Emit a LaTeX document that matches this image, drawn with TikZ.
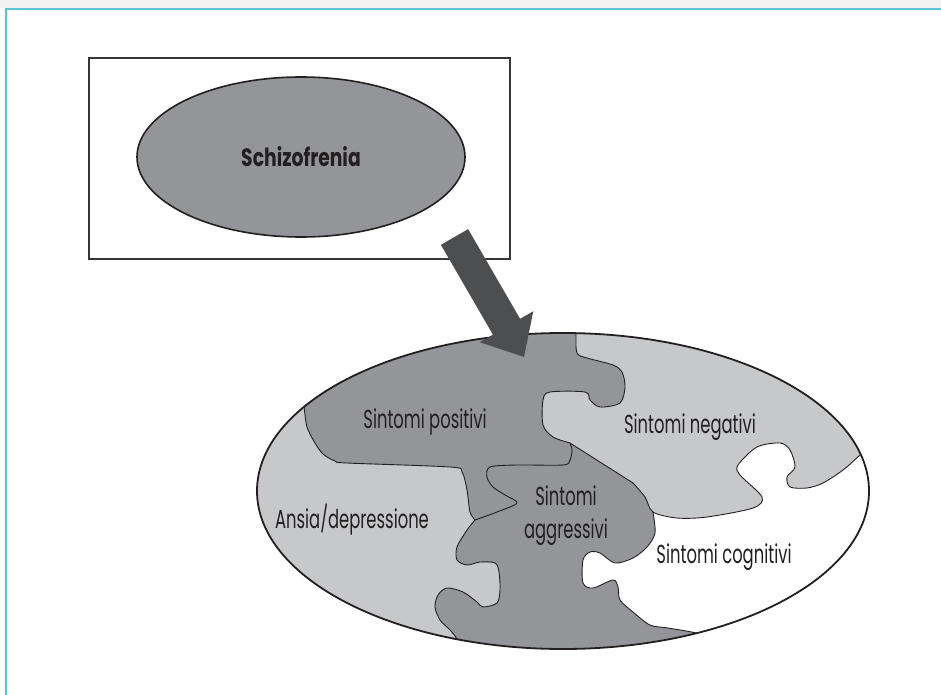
\documentclass[tikz,border=0pt]{standalone}
\usepackage{fontspec}
\newfontfamily\labfont[FakeStretch=0.63]{Poppins}
\newfontfamily\titlefont[FakeStretch=0.75]{Poppins}
\usetikzlibrary{shapes.geometric}
\definecolor{midgray}{HTML}{939598}
\definecolor{lightgray2}{HTML}{C7C8CA}
\definecolor{arrowgray}{HTML}{4D4E50}
\definecolor{inkc}{HTML}{231F20}
\definecolor{framecyan}{HTML}{5CC6D0}
\tikzset{
  lab/.style={font=\labfont\fontsize{26}{33}\selectfont, text=inkc, inner sep=0, outer sep=0},
  seam/.style={draw=inkc, line width=0.9, line join=round},
  sm/.style={smooth, tension=0.5},
}
\begin{document}
\begin{tikzpicture}[x=1pt,y=-1pt]
\useasboundingbox (0,0) rectangle (941,695);
\fill[black!5] (0,0) rectangle (941,8);
\draw[framecyan, line width=1.5] (941,9) -- (6,9) -- (6,695);

% top box with the Schizofrenia ellipse
\node[draw=inkc!90, line width=1.8, minimum width=421, minimum height=201, inner sep=0, outer sep=0] (box) at (299.5,158.5) {};
\node[ellipse, draw=inkc, line width=1.6, fill=midgray, minimum width=328, minimum height=160, inner sep=0, text=inkc, font=\titlefont\bfseries\fontsize{25}{30}\selectfont] (schizo) at (301,157) {Schizofrenia};

% the puzzle inside the big ellipse
\begin{scope}
\clip (563,491) ellipse [x radius=306, y radius=158];
\fill[midgray] (250,320) rectangle (900,670);
% Ansia/depressione
\fill[lightgray2] plot[sm] coordinates {(303,395) (304,406) (307,427) (315,443) (323,454) (335,461) (347,463) (450,467) (462,472) (467,490) (470,512) (475,520)}
  -- plot[sm] coordinates {(475,520) (467,530) (457,547) (457,560) (467,565) (480,562) (495,563) (499,572) (500,590) (497,603) (483,607) (477,602) (463,592) (447,588) (438,595) (435,607) (440,620) (450,630) (457,639) (462,652)}
  -- (250,660) -- (250,395) -- cycle;
% Sintomi negativi
\fill[lightgray2] plot[sm] coordinates {(576,322) (576,335) (577,353) (587,358) (613,365) (622,372) (625,387) (620,403) (600,407) (590,400) (585,392) (550,392) (543,400) (543,425) (553,437) (570,443)}
  -- (633,483) -- plot[sm] coordinates {(633,483) (645,497) (653,512) (677,518) (707,517) (753,508) (762,497) (740,475) (738,465) (757,447) (780,443) (790,450) (795,467) (787,477) (790,487) (807,488) (823,483) (843,470) (860,455) (878,438)}
  -- (900,440) -- (900,320) -- (576,320) -- cycle;
% Sintomi cognitivi
\fill[white] plot[sm] coordinates {(653,512) (677,518) (707,517) (753,508) (762,497) (740,475) (738,465) (757,447) (780,443) (790,450) (795,467) (787,477) (790,487) (807,488) (823,483) (843,470) (860,455) (878,438)}
  -- (900,440) -- (900,670) -- (712,670)
  -- plot[sm] coordinates {(712,640) (696,633) (668,628) (650,625) (633,612) (620,600) (618,587) (613,580) (593,588) (583,583) (583,560) (590,552) (600,553) (615,563) (633,558) (647,547) (655,533) (653,512)} -- cycle;
% seams
\draw[seam] plot[sm] coordinates {(303,395) (304,406) (307,427) (315,443) (323,454) (335,461) (347,463) (450,467) (462,472) (467,490) (470,512) (475,520)};
\draw[seam] plot[sm] coordinates {(475,520) (467,530) (457,547) (457,560) (467,565) (480,562) (495,563) (499,572) (500,590) (497,603) (483,607) (477,602) (463,592) (447,588) (438,595) (435,607) (440,620) (450,630) (457,639) (462,652)};
\draw[seam] plot[sm] coordinates {(475,520) (497,512) (517,503) (505,495) (493,487) (487,477) (490,467) (517,465) (563,465) (570,460) (572,450) (570,443)};
\draw[seam] plot[sm] coordinates {(576,322) (576,335) (577,353) (587,358) (613,365) (622,372) (625,387) (620,403) (600,407) (590,400) (585,392) (550,392) (543,400) (543,425) (553,437) (570,443)};
\draw[seam] (570,443) -- (633,483);
\draw[seam] plot[sm] coordinates {(633,483) (645,497) (653,512) (677,518) (707,517) (753,508) (762,497) (740,475) (738,465) (757,447) (780,443) (790,450) (795,467) (787,477) (790,487) (807,488) (823,483) (843,470) (860,455) (878,438)};
\draw[seam] plot[sm] coordinates {(653,512) (655,533) (647,547) (633,558) (615,563) (600,553) (590,552) (583,560) (583,583) (593,588) (613,580) (618,587) (620,600) (633,612) (650,625) (668,628) (696,633) (712,640)};
\end{scope}
\node[ellipse, draw=inkc, line width=1.8, minimum width=612, minimum height=316, inner sep=0, outer sep=0] (mind) at (563,491) {};

% labels
\node[lab, anchor=base] (pos) at (425,428) {Sintomi positivi};
\node[lab, anchor=base] (neg) at (690,433) {Sintomi negativi};
\node[lab, anchor=base] (ans) at (352,528) {Ansia/depressione};
\node[lab, align=center] (agg) at (566,516) {Sintomi\\aggressivi};
\node[lab, anchor=base] (cog) at (724,563) {Sintomi cognitivi};

% block arrow from the box to the puzzle
\coordinate (s1) at (440.9,244.9);
\coordinate (s2) at (468.1,229.1);
\coordinate (h2) at (520.1,318.8);
\coordinate (b2) at (533.3,311.2);
\coordinate (tip) at (524,357);
\coordinate (b1) at (479.7,342.2);
\coordinate (h1) at (492.9,334.6);
\fill[arrowgray] (s1) -- (s2) -- (h2) -- (b2) -- (tip) -- (b1) -- (h1) -- cycle;
\end{tikzpicture}
\end{document}
